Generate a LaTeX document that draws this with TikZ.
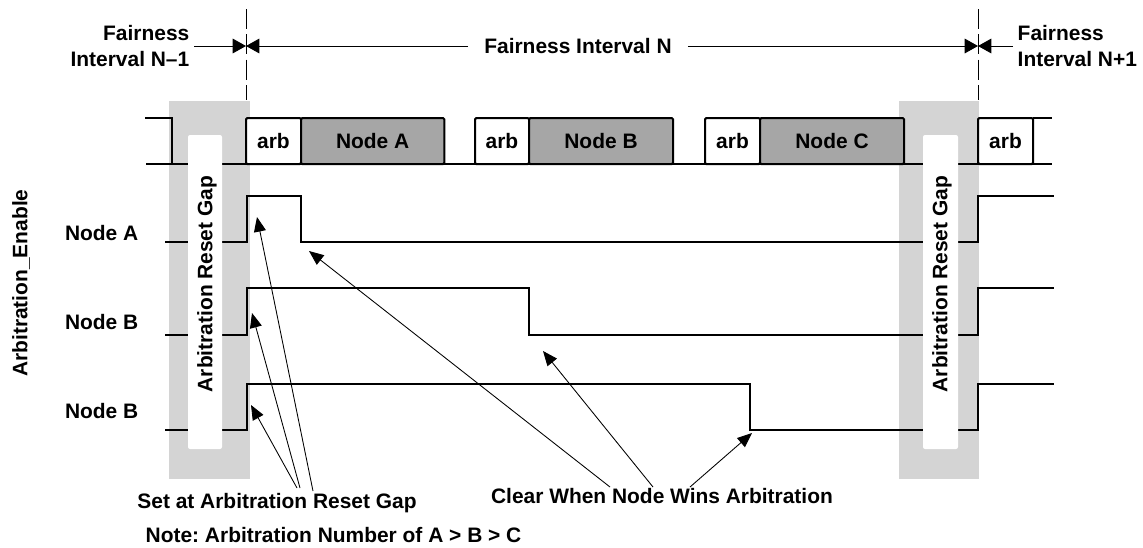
\documentclass[tikz,border=0pt]{standalone}
\usepackage{fontspec}
\setmainfont{Liberation Sans}
\usepackage{tikz}
\usetikzlibrary{arrows.meta,positioning}
\frenchspacing

\definecolor{gapgray}{RGB}{212,212,212}
\definecolor{pktgray}{RGB}{166,166,166}

\begin{document}
\begin{tikzpicture}[x=0.75pt,y=-0.75pt,
    font=\fontsize{15.7}{20.2}\selectfont\bfseries,
    wave/.style={line width=1.7pt},
    rowline/.style={line width=1.3pt},
    pointer/.style={line width=0.65pt,-{Triangle[length=11pt,width=9pt]}},
    interval/.style={line width=0.75pt,-{Triangle[length=10pt,width=11pt]}},
    boundary/.style={line width=0.75pt,dash pattern=on 15pt off 4pt},
    arbbox/.style={rectangle,draw,line width=1.5pt,rounded corners=1pt,fill=white,minimum width=41.25pt,minimum height=34.5pt,inner sep=0pt,outer sep=0pt},
    pktbox/.style={rectangle,draw,line width=1.5pt,rounded corners=1pt,fill=pktgray,minimum width=107.5pt,minimum height=34.5pt,inner sep=0pt,outer sep=0pt}]
    \useasboundingbox (0,0) rectangle (1143,547);

    % reset gaps
    \fill[gapgray] (169,101) rectangle (250,479);
    \fill[gapgray] (899,101) rectangle (979,479);

    % interval boundaries
    \coordinate (bl) at (246,46);
    \coordinate (br) at (978,46);
    \draw[boundary] (246,9) -- (246,100);
    \draw[boundary] (978,9) -- (978,100);
    \node[inner xsep=12pt] (intN) at (578,46) {Fairness Interval N};
    \node[align=right,anchor=east] (intPrev) at (194,46) {Fairness\\Interval N–1};
    \node[align=left,anchor=west] (intNext) at (1013,46) {Fairness\\Interval N+1};
    \draw[interval] (intPrev.east) -- (bl);
    \draw[interval] (intN.west) -- (bl);
    \draw[interval] (intN.east) -- (br);
    \draw[interval] (intNext.west) -- (br);

    % packet row
    \draw[rowline] (145,118) -- (172,118) -- (172,164);
    \draw[rowline] (146,164) -- (1052,164);
    \node[arbbox] (arb1) at (273.5,141) {arb};
    \node[pktbox,right=0pt of arb1] (pktA) {Node A};
    \node[arbbox,minimum width=40.5pt] (arb2) at (502,141) {arb};
    \node[pktbox,minimum width=108pt,right=0pt of arb2] (pktB) {Node B};
    \node[arbbox] (arb3) at (732.5,141) {arb};
    \node[pktbox,minimum width=108pt,right=0pt of arb3] (pktC) {Node C};
    \node[arbbox] (arb4) at (1005.5,141) {arb};
    \draw[rowline] (arb4.north east) -- (1052,118);

    % enable signals
    \draw[wave] (165,242) -- (247,242) -- (247,196) -- (301,196) -- (301,242) -- (978,242) -- (978,196) -- (1054,196);
    \draw[wave] (165,335) -- (247,335) -- (247,288) -- (529,288) -- (529,335) -- (978,335) -- (978,288) -- (1054,288);
    \draw[wave] (165,430) -- (247,430) -- (247,384) -- (750,384) -- (750,430) -- (978,430) -- (978,384) -- (1054,384);

    \node[anchor=east] (sigA) at (143,233) {Node A};
    \node[anchor=east] (sigB) at (143,322) {Node B};
    \node[anchor=east] (sigC) at (143,411) {Node B};
    \node[rotate=90] (enable) at (21,283) {Arbitration\_Enable};

    % gap labels
    \fill[white,rounded corners=1.5pt] (188,135) rectangle (222,449);
    \fill[white,rounded corners=1.5pt] (923,135) rectangle (958,449);
    \node[rotate=90] (gapL) at (207,284) {Arbitration Reset Gap};
    \node[rotate=90] (gapR) at (942,284) {Arbitration Reset Gap};

    % notes
    \node[anchor=base] (setlbl) at (277,508) {Set at Arbitration Reset Gap};
    \node[anchor=base] (clrlbl) at (662,503) {Clear When Node Wins Arbitration};
    \node[anchor=base west] (note) at (141,542) {Note: Arbitration Number of A > B > C};

    \coordinate (set1) at (297,488);
    \coordinate (set2) at (300,488);
    \coordinate (set3) at (313,491);
    \coordinate (riseA) at (257,217);
    \coordinate (riseB) at (252,313);
    \coordinate (riseC) at (251,405);
    \draw[pointer] (set1) -- (riseC);
    \draw[pointer] (set2) -- (riseB);
    \draw[pointer] (set3) -- (riseA);

    \coordinate (clr1) at (610,487);
    \coordinate (clr2) at (653,487);
    \coordinate (clr3) at (690,487);
    \coordinate (fallA) at (309,251);
    \coordinate (fallB) at (543,351);
    \coordinate (fallC) at (752,433);
    \draw[pointer] (clr1) -- (fallA);
    \draw[pointer] (clr2) -- (fallB);
    \draw[pointer] (clr3) -- (fallC);
\end{tikzpicture}
\end{document}
